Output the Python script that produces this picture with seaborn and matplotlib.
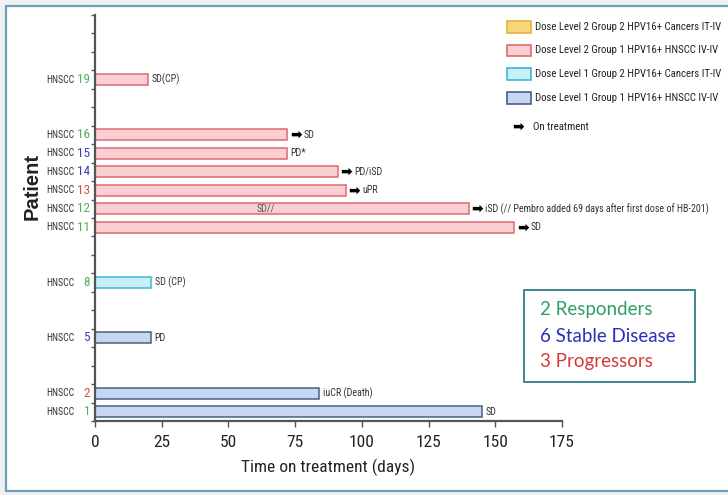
import matplotlib
matplotlib.use("Agg")
import matplotlib.pyplot as plt
from matplotlib import font_manager
import numpy as np
import pandas as pd
import seaborn as sns
from matplotlib.patches import Rectangle

# ---- data ----
patients = [1, 2, 5, 8, 11, 12, 13, 14, 15, 16, 19]
days = [145, 84, 21, 21, 157, 140, 94, 91, 72, 72, 20]
groups = ["DL1G1", "DL1G1", "DL1G1", "DL1G2", "DL2G1", "DL2G1",
          "DL2G1", "DL2G1", "DL2G1", "DL2G1", "DL2G1"]
responses = ["SD", "iuCR (Death)", "PD", "SD (CP)", "SD",
             "iSD (// Pembro added 69 days after first dose of HB-201)",
             "uPR", "PD/iSD", "PD*", "SD", "SD(CP)"]
on_treatment = [False, False, False, False, True, True, True, True, False, True, False]
id_status = ["resp", "prog", "stable", "resp", "resp", "resp",
             "prog", "stable", "stable", "resp", "resp"]

group_keys = ["DL2G2", "DL2G1", "DL1G2", "DL1G1"]
group_labels = ["Dose Level 2 Group 2 HPV16+ Cancers IT-IV",
                "Dose Level 2 Group 1 HPV16+ HNSCC IV-IV",
                "Dose Level 1 Group 2 HPV16+ Cancers IT-IV",
                "Dose Level 1 Group 1 HPV16+ HNSCC IV-IV"]
summary_lines = ["2 Responders", "6 Stable Disease", "3 Progressors"]

# ---- styling ----
fills = {"DL2G2": "#f8d77a", "DL2G1": "#f9cfd3", "DL1G2": "#c8eef8", "DL1G1": "#c7d7f0"}
edges = {"DL2G2": "#e8b23c", "DL2G1": "#dd6a72", "DL1G2": "#3fb6d2", "DL1G1": "#4a5f86"}
status_colors = {"resp": "#4db35a", "stable": "#3a3ac4", "prog": "#e04848"}
summary_colors = ["#2f9e63", "#2e2eb8", "#d63a3a"]

_avail = {f.name for f in font_manager.fontManager.ttflist}


def pick(*names):
    return next((n for n in names if n in _avail), "DejaVu Sans")


NARROW = pick("Liberation Sans Narrow", "Roboto Condensed", "Open Sans Condensed", "Roboto")
ROUNDED = pick("Lato", "Open Sans")
W, H = 728, 495

sns.set_style("ticks")
fig = plt.figure(figsize=(W / 100, H / 100), dpi=100)
fig.patch.set_facecolor("#eef2f5")


def fx(px):
    return px / W


def fy(py):
    return 1 - py / H


# page frame
fig.patches.append(Rectangle((fx(6), fy(491)), fx(760) - fx(6), fy(6) - fy(491),
                             transform=fig.transFigure, facecolor="white",
                             edgecolor="#6f9fb6", lw=1.6, zorder=-5))

ax = fig.add_axes([fx(95), fy(421), fx(562) - fx(95), fy(15) - fy(421)])
ax.set_facecolor("none")

df = pd.DataFrame({"patient": patients, "days": days, "group": groups,
                   "response": responses, "on": on_treatment, "status": id_status})

for g in group_keys:
    sub = df[df["group"] == g]
    if sub.empty:
        continue
    sns.barplot(data=sub, x="days", y="patient", orient="h", native_scale=True,
                color=fills[g], saturation=1, width=0.6, errorbar=None,
                edgecolor=edges[g], linewidth=1.1, ax=ax)

ax.set_xlim(0, 175)
ax.set_ylim(0.5, 22.5)
ax.set_xticks(np.arange(0, 176, 25))
ax.set_yticks(np.arange(0.5, 22.6, 1))
ax.set_yticklabels([])
for lab in ax.get_xticklabels():
    lab.set_family(NARROW)
    lab.set_fontsize(12.5)
ax.tick_params(axis="x", length=4, width=1, colors="#555555", pad=6, labelcolor="#222222")
ax.tick_params(axis="y", length=3, width=1, colors="#555555")
for side in ("top", "right"):
    ax.spines[side].set_visible(False)
for side in ("left", "bottom"):
    ax.spines[side].set_color("#555555")
    ax.spines[side].set_linewidth(1.6)

ax.set_ylabel("")
ax.set_xlabel("")
fig.text(fx(328), fy(467), "Time on treatment (days)", ha="center", va="center",
         fontsize=12.5, family=NARROW, color="#222222")
fig.text(fx(32), fy(187), "Patient", ha="center", va="center", rotation=90,
         fontsize=14.5, fontweight="bold", family=pick("Liberation Sans", "DejaVu Sans"),
         color="#222222")

# patient labels and response annotations
ytr = ax.get_yaxis_transform()
long_notes = []
for p, d, r, on, st in zip(patients, days, responses, on_treatment, id_status):
    ax.annotate("HNSCC", xy=(0, p), xycoords=ytr, xytext=(-15, 0),
                textcoords="offset points", ha="right", va="center",
                fontsize=7, family=NARROW, color="#333333")
    ax.annotate(str(p), xy=(0, p), xycoords=ytr, xytext=(-3.5, 0),
                textcoords="offset points", ha="right", va="center",
                fontsize=9.5, family=NARROW, color=status_colors[st])
    if on:
        ax.annotate("\u27a1", xy=(d, p), xytext=(2, 0), textcoords="offset points",
                    ha="left", va="center", fontsize=10, fontweight="bold",
                    family="DejaVu Sans", color="black")
        t = ax.annotate(r, xy=(d, p), xytext=(12, 0), textcoords="offset points",
                        ha="left", va="center", fontsize=7.2, family=NARROW,
                        color="#333333")
    else:
        t = ax.annotate(r, xy=(d, p), xytext=(2.5, 0), textcoords="offset points",
                        ha="left", va="center", fontsize=7.2, family=NARROW,
                        color="#333333")
    long_notes.append(t)

ax.text(64, 12, "SD//", ha="center", va="center", fontsize=7.2, family=NARROW,
        color="#555555")

# legend
leg_y = [27, 50, 74, 98]
leg_texts = []
for key, lab, y in zip(group_keys, group_labels, leg_y):
    fig.patches.append(Rectangle((fx(507), fy(y + 5.5)), fx(531) - fx(507), fy(y - 5.5) - fy(y + 5.5),
                                 transform=fig.transFigure, facecolor=fills[key],
                                 edgecolor=edges[key], lw=1.2))
    leg_texts.append(fig.text(fx(535), fy(y), lab, ha="left", va="center", fontsize=9,
                              family=NARROW, color="#222222"))
fig.text(fx(518), fy(127), "\u27a1", ha="center", va="center", fontsize=10,
         fontweight="bold", family="DejaVu Sans", color="black")
leg_texts.append(fig.text(fx(533), fy(127), "On treatment", ha="left", va="center",
                          fontsize=9, family=NARROW, color="#222222"))

# response summary box
fig.patches.append(Rectangle((fx(524), fy(382)), fx(695) - fx(524), fy(290) - fy(382),
                             transform=fig.transFigure, facecolor="white",
                             edgecolor="#2f7f8c", lw=1.3))
for line, col, y in zip(summary_lines, summary_colors, [310, 336, 361]):
    fig.text(fx(540), fy(y), line, ha="left", va="center", fontsize=13.5,
             family=ROUNDED, color=col)

# shrink texts that would run past the right edge of the page
renderer = fig.canvas.get_renderer()


def fit_group(texts, limit):
    size = max(t.get_fontsize() for t in texts)
    while size > 5:
        widest = max(t.get_window_extent(renderer).x1 for t in texts)
        if widest <= limit:
            break
        size -= 0.25
        for t in texts:
            t.set_fontsize(min(t.get_fontsize(), size))


fit_group(leg_texts, W - 3)
fit_group(long_notes, W - 14)

fig.savefig("out.png", dpi=100, facecolor=fig.get_facecolor())
